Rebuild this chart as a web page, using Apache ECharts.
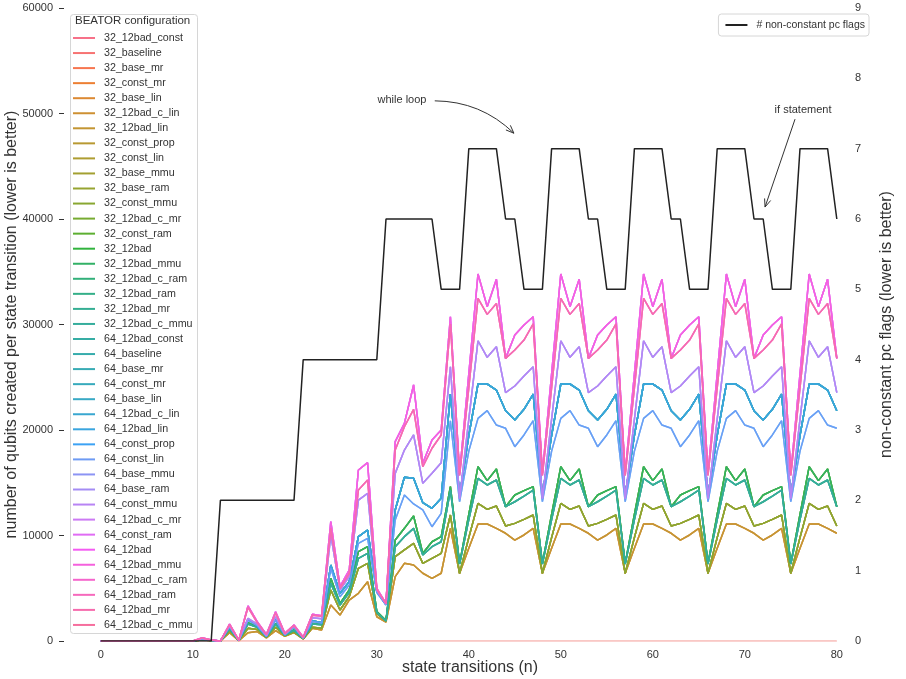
<!DOCTYPE html>
<html>
<head>
<meta charset="utf-8">
<script src="https://cdn.jsdelivr.net/npm/echarts@6/dist/echarts.min.js"></script>
<style>html,body{margin:0;padding:0;background:#fff}#c{width:906px;height:679px}</style>
</head>
<body>
<div id="c"></div>
<script>
// ---------- DATA ----------
const transitions = Array.from({length: 81}, (_, i) => i);

const configNames = [
  '32_12bad_const','32_baseline','32_base_mr','32_const_mr','32_base_lin','32_12bad_c_lin','32_12bad_lin','32_const_prop',
  '32_const_lin','32_base_mmu','32_base_ram','32_const_mmu','32_12bad_c_mr','32_const_ram','32_12bad','32_12bad_mmu',
  '32_12bad_c_ram','32_12bad_ram','32_12bad_mr','32_12bad_c_mmu',
  '64_12bad_const','64_baseline','64_base_mr','64_const_mr','64_base_lin','64_12bad_c_lin','64_12bad_lin','64_const_prop',
  '64_const_lin','64_base_mmu','64_base_ram','64_const_mmu','64_12bad_c_mr','64_const_ram','64_12bad','64_12bad_mmu',
  '64_12bad_c_ram','64_12bad_ram','64_12bad_mr','64_12bad_c_mmu'
];

const zeroLevel = [0,0,0,0,0,0,0,0,0,0,0,0,0,0,0,0,0,0,0,0,0,0,0,0,0,0,0,0,0,0,0,0,0,0,0,0,0,0,0,0,
  0,0,0,0,0,0,0,0,0,0,0,0,0,0,0,0,0,0,0,0,0,0,0,0,0,0,0,0,0,0,0,0,0,0,0,0,0,0,0,0,0];

const pinkTop = [0,0,0,0,0,0,0,0,0,0,0,
  300,100,0,1610,80,3320,1830,630,2780,730,1520,350,2530,2400,11310,5150,6730,16210,16900,4990,3570,18890,20630,24270,16840,19050,20000,30740,
  15900,25300,34790,31690,34280,26790,29000,29950,30740,
  15900,25300,34790,31690,34280,26790,29000,29950,30740,
  15900,25300,34790,31690,34280,26790,29000,29950,30740,
  15900,25300,34790,31690,34280,26790,29000,29950,30740,
  15900,25300,34790,31690,34280,26790];

const pinkLow = [0,0,0,0,0,0,0,0,0,0,0,
  280,90,0,1550,80,3200,1750,600,2650,700,1480,330,2450,2350,10680,5000,6400,14320,15260,4900,3550,18100,20310,21960,16520,18270,19530,30050,
  15700,24000,32480,30960,32000,26790,27580,28530,30050,
  15700,24000,32480,30960,32000,26790,27580,28530,30050,
  15700,24000,32480,30960,32000,26790,27580,28530,30050,
  15700,24000,32480,30960,32000,26790,27580,28530,30050,
  15700,24000,32480,30960,32000,26790];

const purple = [0,0,0,0,0,0,0,0,0,0,0,
  250,80,0,1450,70,2150,1600,500,2300,650,1420,300,2200,2100,10050,4830,6100,13360,14000,4800,3500,15890,18100,19530,14950,15890,16900,26000,
  13500,21000,28460,26890,27900,23540,24170,25120,26000,
  13500,21000,28460,26890,27900,23540,24170,25120,26000,
  13500,21000,28460,26890,27900,23540,24170,25120,26000,
  13500,21000,28460,26890,27900,23540,24170,25120,26000,
  13500,21000,28460,26890,27900,23540];

const cyanBlue = [0,0,0,0,0,0,0,0,0,0,0,
  200,60,0,1400,60,2060,1500,450,2060,600,1360,280,1930,1740,7200,4520,5630,9890,10520,4700,3450,12420,15520,15420,13110,12580,13530,23410,
  13800,19500,24360,24360,23790,21830,20950,21960,23410,
  13800,19500,24360,24360,23790,21830,20950,21960,23410,
  13800,19500,24360,24360,23790,21830,20950,21960,23410,
  13800,19500,24360,24360,23790,21830,20950,21960,23410,
  13800,19500,24360,24360,23790,21830];

const cornflower = [0,0,0,0,0,0,0,0,0,0,0,
  200,60,0,1350,60,1950,1450,450,1950,580,1300,270,1850,1700,6890,4200,5300,9260,9730,4600,3400,11470,13840,12990,12420,10830,12100,20880,
  13200,18000,21100,21830,20470,20160,18420,19530,20880,
  13200,18000,21100,21830,20470,20160,18420,19530,20880,
  13200,18000,21100,21830,20470,20160,18420,19530,20880,
  13200,18000,21100,21830,20470,20160,18420,19530,20880,
  13200,18000,21100,21830,20470,20160];

const greenHigh = [0,0,0,0,0,0,0,0,0,0,0,
  150,50,0,1200,50,1740,1360,410,1670,570,1040,250,1670,1610,5940,3570,4830,8470,8940,2800,1930,9570,10680,11850,8310,9410,9890,14630,
  7360,12000,16520,15200,16300,12730,13840,14250,14630,
  7360,12000,16520,15200,16300,12730,13840,14250,14630,
  7360,12000,16520,15200,16300,12730,13840,14250,14630,
  7360,12000,16520,15200,16300,12730,13840,14250,14630,
  7360,12000,16520,15200,16300,12730];

const greenLow = [0,0,0,0,0,0,0,0,0,0,0,
  150,50,0,1150,50,1600,1300,400,1600,550,1000,240,1600,1550,5470,3400,4600,7840,8310,2700,1900,8940,9890,10680,8150,8940,9410,14310,
  7300,11500,15420,14790,15260,12730,13200,13740,14310,
  7300,11500,15420,14790,15260,12730,13200,13740,14310,
  7300,11500,15420,14790,15260,12730,13200,13740,14310,
  7300,11500,15420,14790,15260,12730,13200,13740,14310,
  7300,11500,15420,14790,15260,12730];

const olive = [0,0,0,0,0,0,0,0,0,0,0,
  100,40,0,950,40,1200,1100,350,1300,500,850,220,1300,1200,4830,2940,4200,6890,7360,2620,1900,7990,8630,9260,7360,7840,8310,11940,
  6420,9800,13050,12480,12800,10900,11150,11530,11940,
  6420,9800,13050,12480,12800,10900,11150,11530,11940,
  6420,9800,13050,12480,12800,10900,11150,11530,11940,
  6420,9800,13050,12480,12800,10900,11150,11530,11940,
  6420,9800,13050,12480,12800,10900];

const gold = [0,0,0,0,0,0,0,0,0,0,0,
  100,40,0,790,40,790,890,300,980,450,790,200,1200,1040,3410,2460,3880,4520,5620,2300,1800,6100,7360,7200,6420,5940,6420,10680,
  6420,8800,11090,11090,10680,10210,9570,10050,10680,
  6420,8800,11090,11090,10680,10210,9570,10050,10680,
  6420,8800,11090,11090,10680,10210,9570,10050,10680,
  6420,8800,11090,11090,10680,10210,9570,10050,10680,
  6420,8800,11090,11090,10680,10210];

const pcFlags = [0,0,0,0,0,0,0,0,0,0,0,0,0,
  2,2,2,2,2,2,2,2,2,
  4,4,4,4,4,4,4,4,4,
  6,6,6,6,6,6, 5,5,5,
  7,7,7,7, 6,6, 5,5,5,
  7,7,7,7, 6,6, 5,5,5,
  7,7,7,7, 6,6, 5,5,5,
  7,7,7,7, 6,6, 5,5,5,
  7,7,7,7, 6];

// which curve each configuration follows
const configLevel = {
  '32_12bad_const': zeroLevel, '32_baseline': zeroLevel, '32_base_mr': zeroLevel, '32_const_mr': zeroLevel,
  '32_base_lin': gold, '32_12bad_c_lin': gold, '32_12bad_lin': gold,
  '32_const_prop': olive, '32_const_lin': olive, '32_base_mmu': olive, '32_base_ram': olive, '32_const_mmu': olive,
  '32_12bad_c_mr': greenHigh, '32_const_ram': greenHigh, '32_12bad': greenHigh, '32_12bad_mmu': greenHigh,
  '32_12bad_c_ram': greenLow, '32_12bad_ram': greenLow, '32_12bad_mr': greenLow, '32_12bad_c_mmu': greenLow,
  '64_12bad_const': cyanBlue, '64_baseline': cyanBlue, '64_base_mr': cyanBlue, '64_const_mr': cyanBlue,
  '64_base_lin': cyanBlue, '64_12bad_c_lin': cyanBlue, '64_12bad_lin': cyanBlue,
  '64_const_prop': cornflower, '64_const_lin': cornflower,
  '64_base_mmu': purple, '64_base_ram': purple, '64_const_mmu': purple,
  '64_12bad_c_mr': pinkTop, '64_const_ram': pinkTop, '64_12bad': pinkTop, '64_12bad_mmu': pinkTop,
  '64_12bad_c_ram': pinkLow, '64_12bad_ram': pinkLow, '64_12bad_mr': pinkLow, '64_12bad_c_mmu': zeroLevel
};

const leftTicks = {min: 0, max: 60000, interval: 10000};
const rightTicks = {min: 0, max: 9, interval: 1};
// annotation anchors, in (state transition, pc flags) coordinates
const whileLoop = {text: 'while loop', at: [32.74, 7.69], from: [36.3, 7.68], to: [44.9, 7.22], bend: 0.2};
const ifStatement = {text: 'if statement', at: [76.33, 7.55], from: [75.46, 7.42], to: [72.2, 6.17], bend: 0};

// ---------- seaborn husl palette ----------
function huslToRgb(h, s, l) {
  const M = [[3.240969941904521,-1.537383177570093,-0.498610760293],
             [-0.96924363628087,1.87596750150772,0.041555057407175],
             [0.055630079696993,-0.20397695888897,1.056971514242878]];
  const refU = 0.19783000664283681, refV = 0.468319994938791, kappa = 903.2962962962963, eps = 0.0088564516790356308;
  function bounds(L) {
    const res = []; const sub1 = Math.pow(L + 16, 3) / 1560896; const sub2 = sub1 > eps ? sub1 : L / kappa;
    for (let c = 0; c < 3; c++) {
      const m1 = M[c][0], m2 = M[c][1], m3 = M[c][2];
      for (let t = 0; t < 2; t++) {
        const top1 = (284517 * m1 - 94839 * m3) * sub2;
        const top2 = (838422 * m3 + 769860 * m2 + 731718 * m1) * L * sub2 - 769860 * t * L;
        const bottom = (632260 * m3 - 126452 * m2) * sub2 + 126452 * t;
        res.push([top1 / bottom, top2 / bottom]);
      }
    }
    return res;
  }
  function maxChroma(L, H) {
    const hr = H / 180 * Math.PI; let min = Infinity;
    for (const [sl, ic] of bounds(L)) { const len = ic / (Math.sin(hr) - sl * Math.cos(hr)); if (len >= 0 && len < min) min = len; }
    return min;
  }
  let L = l, C;
  if (L > 99.9999999) { L = 100; C = 0; } else if (L < 1e-8) { L = 0; C = 0; } else C = maxChroma(L, h) / 100 * s;
  const hr = h / 180 * Math.PI; const U = Math.cos(hr) * C, V = Math.sin(hr) * C;
  let X = 0, Y = 0, Z = 0;
  if (L > 0) {
    Y = L <= 8 ? L / kappa : Math.pow((L + 16) / 116, 3);
    const vu = U / (13 * L) + refU, vv = V / (13 * L) + refV;
    X = 0 - (9 * Y * vu) / ((vu - 4) * vv - vu * vv);
    Z = (9 * Y - 15 * vv * Y - vv * X) / (3 * vv);
  }
  const rgb = M.map(r => r[0] * X + r[1] * Y + r[2] * Z)
    .map(c => c <= 0.0031308 ? 12.92 * c : 1.055 * Math.pow(c, 1 / 2.4) - 0.055)
    .map(c => Math.round(Math.min(1, Math.max(0, c)) * 255));
  return 'rgb(' + rgb.join(',') + ')';
}
const nCfg = configNames.length;
const palette = configNames.map((_, i) => huslToRgb(((i / nCfg + 0.01) % 1) * 359, 0.9 * 99, 0.65 * 99));

// ---------- CHART ----------
const FONT = '"Liberation Sans", Arial, sans-serif';
const TXT = '#333333';
const chart = echarts.init(document.getElementById('c'), null, {renderer: 'canvas'});

const series = configNames.map((name, i) => ({
  name: name, type: 'line', xAxisIndex: 0, yAxisIndex: 0,
  data: transitions.map((x, k) => [x, configLevel[name][k]]),
  showSymbol: false, symbol: 'none', smooth: false,
  lineStyle: {width: 1.5, color: palette[i], opacity: configLevel[name] === zeroLevel ? 0.12 : 0.85},
  itemStyle: {color: palette[i]},
  emphasis: {disabled: true}, silent: true, z: 2
}));

series.push({
  name: '# non-constant pc flags', type: 'line', xAxisIndex: 0, yAxisIndex: 1,
  data: transitions.map((x, k) => [x, pcFlags[k]]),
  showSymbol: false, symbol: 'none',
  lineStyle: {width: 1.5, color: '#222222'}, itemStyle: {color: '#222222'},
  emphasis: {disabled: true}, silent: true, z: 10,
  markPoint: {
    silent: true, symbol: 'circle', symbolSize: 0, animation: false,
    label: {show: true, position: 'inside', formatter: '{b}', color: TXT, fontSize: 11, fontFamily: FONT},
    data: [whileLoop, ifStatement].map(a => ({name: a.text, coord: a.at}))
  }
});

const baseGraphic = [{
  type: 'rect', left: 70, top: 14, z: 5, silent: true,
  shape: {width: 127, height: 619, r: 3},
  style: {fill: 'rgba(255,255,255,0.85)', stroke: '#d6d6d6', lineWidth: 1}
}, {
  type: 'text', left: 75, top: 15, z: 6, silent: true,
  style: {text: 'BEATOR configuration', fontSize: 11.5, fill: TXT, fontFamily: FONT}
}];

chart.setOption({
  animation: false,
  backgroundColor: '#ffffff',
  textStyle: {fontFamily: FONT},
  grid: {left: 64, right: 60, top: 8, bottom: 38, containLabel: false, outerBoundsMode: 'none'},
  xAxis: [{
    type: 'value', min: -4, max: 81, splitNumber: 8,
    name: 'state transitions (n)', nameLocation: 'middle', nameGap: 19, nameMoveOverlap: false,
    nameTextStyle: {fontSize: 16, color: TXT, fontFamily: FONT, padding: [0, 0, 0, 30]},
    axisLine: {show: false, onZero: false}, axisTick: {show: false}, splitLine: {show: false},
    axisLabel: {fontSize: 11, color: TXT, margin: 8, fontFamily: FONT,
      formatter: v => (Math.abs(v % 10) < 1e-9 && v >= 0 && v <= 80) ? String(v) : ''}
  }],
  yAxis: [{
    type: 'value', min: leftTicks.min, max: leftTicks.max, interval: leftTicks.interval, position: 'left',
    name: 'number of qubits created per state transition (lower is better)', nameLocation: 'middle', nameGap: 44,
    nameMoveOverlap: false,
    nameTextStyle: {fontSize: 16, color: TXT, fontFamily: FONT},
    axisLine: {show: false, onZero: false}, splitLine: {show: false},
    axisTick: {show: true, length: 5, inside: false, lineStyle: {color: TXT, width: 1}},
    axisLabel: {fontSize: 11, color: TXT, margin: 11, fontFamily: FONT, formatter: v => String(v)}
  }, {
    type: 'value', min: rightTicks.min, max: rightTicks.max, interval: rightTicks.interval, position: 'right',
    name: 'non-constant pc flags (lower is better)', nameLocation: 'middle', nameGap: 33,
    nameMoveOverlap: false,
    nameTextStyle: {fontSize: 16, color: TXT, fontFamily: FONT},
    axisLine: {show: false, onZero: false}, splitLine: {show: false}, axisTick: {show: false},
    axisLabel: {fontSize: 11, color: TXT, margin: 9, fontFamily: FONT, formatter: v => String(v)}
  }],
  legend: [{
    type: 'plain', orient: 'vertical', left: 73, top: 31.5, padding: 0,
    data: configNames, icon: 'rect', itemWidth: 22, itemHeight: 2, itemGap: 2.05,
    selectedMode: false, z: 6,
    textStyle: {fontSize: 10.7, color: TXT, lineHeight: 13, fontFamily: FONT, padding: [0, 0, 0, 4]}
  }, {
    type: 'plain', orient: 'horizontal', right: 37, top: 14, padding: [4.5, 4, 4.5, 7],
    data: ['# non-constant pc flags'], icon: 'rect', itemWidth: 22, itemHeight: 2,
    selectedMode: false, z: 12,
    backgroundColor: 'rgba(255,255,255,0.85)', borderColor: '#d6d6d6', borderWidth: 1, borderRadius: 3,
    textStyle: {fontSize: 10.5, color: TXT, lineHeight: 13, fontFamily: FONT, padding: [0, 0, 0, 4]}
  }],
  graphic: baseGraphic,
  series: series
});

// annotation arrows placed through the chart's own coordinate conversion
function arrowGraphics(a) {
  const p0 = chart.convertToPixel({xAxisIndex: 0, yAxisIndex: 1}, a.from);
  const p1 = chart.convertToPixel({xAxisIndex: 0, yAxisIndex: 1}, a.to);
  const dx = p1[0] - p0[0], dy = p1[1] - p0[1];
  const cx = (p0[0] + p1[0]) / 2 + a.bend * dy, cy = (p0[1] + p1[1]) / 2 - a.bend * dx;
  let tx = p1[0] - cx, ty = p1[1] - cy; const tl = Math.hypot(tx, ty); tx /= tl; ty /= tl;
  const hl = 8, hw = 3.2;
  const bx = p1[0] - tx * hl, by = p1[1] - ty * hl;
  const head = [[bx - ty * hw, by + tx * hw], [p1[0], p1[1]], [bx + ty * hw, by - tx * hw]];
  const style = {stroke: '#333333', lineWidth: 1, fill: 'none'};
  return [{
    type: 'bezierCurve', z: 11, silent: true,
    shape: {x1: p0[0], y1: p0[1], x2: p1[0], y2: p1[1], cpx1: cx, cpy1: cy},
    style: style
  }, {
    type: 'polyline', z: 11, silent: true, shape: {points: head}, style: style
  }];
}
chart.setOption({graphic: baseGraphic.concat(arrowGraphics(whileLoop), arrowGraphics(ifStatement))});
</script>
</body>
</html>
